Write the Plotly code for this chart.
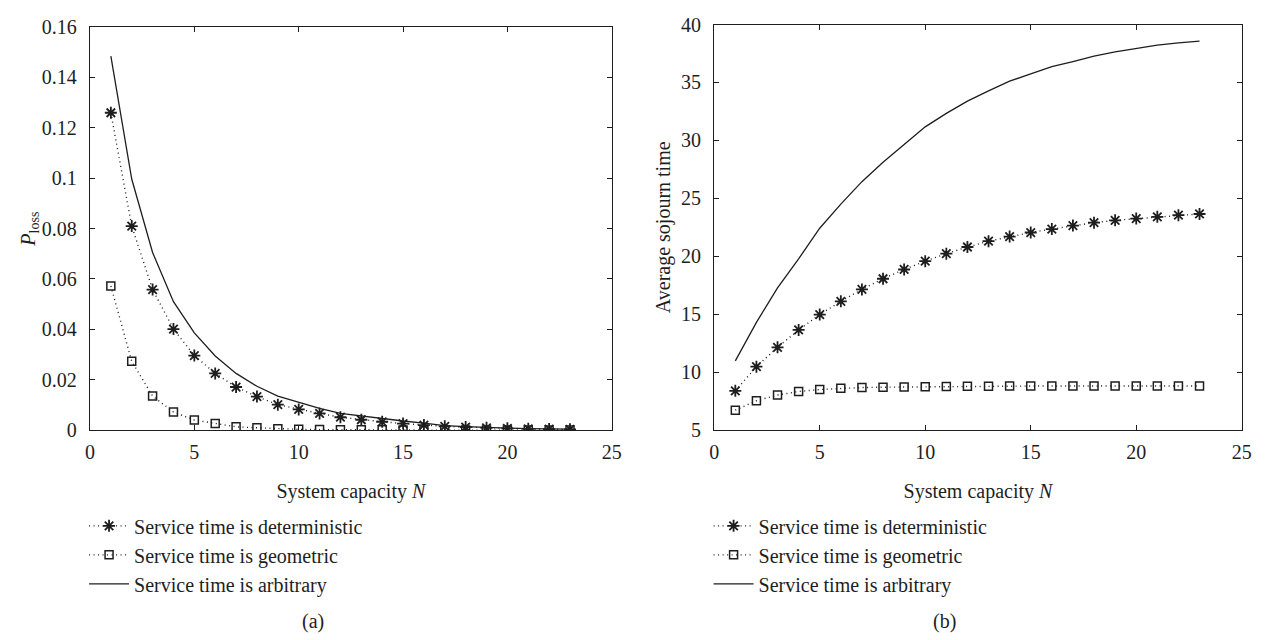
import plotly.graph_objects as go

# System capacity N
capacity = list(range(1, 24))

# (a) Loss probability
ploss_deterministic = [0.126, 0.081, 0.0558, 0.0401, 0.0296, 0.0225, 0.0171, 0.0133, 0.0101,
                       0.0082, 0.0066, 0.0051, 0.0041, 0.0033, 0.0026, 0.0020, 0.0015, 0.0012,
                       0.0009, 0.0007, 0.0005, 0.0004, 0.0003]
ploss_geometric = [0.0572, 0.0273, 0.0135, 0.0072, 0.0040, 0.0026, 0.0013, 0.0009, 0.0005,
                   0.0003, 0.0002, 0.0001, 0.0001, 0.0001, 0.0, 0.0, 0.0, 0.0,
                   0.0, 0.0, 0.0, 0.0, 0.0]
ploss_arbitrary = [0.1485, 0.0997, 0.0705, 0.0510, 0.0386, 0.0294, 0.0225, 0.0174, 0.0135,
                   0.0111, 0.0086, 0.0066, 0.0056, 0.0045, 0.0036, 0.0028, 0.0018, 0.0014,
                   0.0010, 0.0008, 0.0006, 0.0005, 0.0004]

# (b) Average sojourn time
sojourn_deterministic = [8.39, 10.47, 12.14, 13.64, 14.97, 16.11, 17.14, 18.06, 18.86,
                         19.58, 20.22, 20.8, 21.3, 21.7, 22.05, 22.35, 22.65, 22.9,
                         23.1, 23.25, 23.4, 23.55, 23.65]
sojourn_geometric = [6.72, 7.53, 8.03, 8.33, 8.5, 8.61, 8.67, 8.7, 8.72, 8.75, 8.77, 8.78,
                     8.79, 8.8, 8.8, 8.8, 8.8, 8.8, 8.8, 8.8, 8.8, 8.8, 8.8]
sojourn_arbitrary = [10.97, 14.3, 17.28, 19.78, 22.42, 24.5, 26.44, 28.11, 29.64, 31.17,
                     32.33, 33.39, 34.28, 35.11, 35.75, 36.36, 36.8, 37.28, 37.64, 37.94,
                     38.22, 38.42, 38.56]

series_names = ["Service time is deterministic", "Service time is geometric",
                "Service time is arbitrary"]
x_ticks = [0, 5, 10, 15, 20, 25]
ploss_ticks = [0, 0.02, 0.04, 0.06, 0.08, 0.1, 0.12, 0.14, 0.16]
sojourn_ticks = [5, 10, 15, 20, 25, 30, 35, 40]

W, H = 1270, 640
INK = "#1e1e1e"
FONT = "Liberation Serif"
DOT = "1px,3.5px"

fig = go.Figure()


def add_panel(ys, xa, ya, legend):
    det, geo, arb = ys
    fig.add_trace(go.Scatter(
        x=capacity, y=det, name=series_names[0], mode="lines+markers",
        line=dict(color=INK, width=1.4, dash=DOT),
        marker=dict(symbol="asterisk-open", size=10, line=dict(color=INK, width=1.8)),
        xaxis=xa, yaxis=ya, legend=legend))
    fig.add_trace(go.Scatter(
        x=capacity, y=geo, name=series_names[1], mode="lines+markers",
        line=dict(color=INK, width=1.4, dash=DOT),
        marker=dict(symbol="square-open", size=8, line=dict(color=INK, width=1.5)),
        xaxis=xa, yaxis=ya, legend=legend))
    fig.add_trace(go.Scatter(
        x=capacity, y=arb, name=series_names[2], mode="lines",
        line=dict(color=INK, width=1.3),
        xaxis=xa, yaxis=ya, legend=legend))


add_panel((ploss_deterministic, ploss_geometric, ploss_arbitrary), "x", "y", "legend")
add_panel((sojourn_deterministic, sojourn_geometric, sojourn_arbitrary), "x2", "y2", "legend2")

axis_common = dict(
    showgrid=False, zeroline=False, showline=True, linecolor=INK, linewidth=1.3,
    mirror="ticks", ticks="inside", ticklen=5, tickwidth=1.2, tickcolor=INK,
    tickfont=dict(family=FONT, size=20, color=INK),
    title_font=dict(family=FONT, size=20, color=INK),
)

legend_common = dict(
    y=1 - 513 / H, xanchor="left", yanchor="top",
    font=dict(family=FONT, size=20, color=INK), bgcolor="rgba(0,0,0,0)",
    itemwidth=40, tracegroupgap=0,
)

fig.update_layout(
    width=W, height=H,
    margin=dict(l=0, r=0, t=0, b=0),
    paper_bgcolor="white", plot_bgcolor="white",
    xaxis=dict(domain=[86 / W, 614 / W], range=[0, 25], tickvals=x_ticks,
               title=dict(text="System capacity <i>N</i>", standoff=21),
               anchor="y", ticklabelstandoff=4, **axis_common),
    yaxis=dict(domain=[1 - 434 / H, 1 - 16.7 / H], range=[0, 0.16], tickvals=ploss_ticks,
               title=dict(text="<i>P</i><sub>loss</sub>", standoff=0),
               anchor="x", ticklabelstandoff=8, **axis_common),
    xaxis2=dict(domain=[717.7 / W, 1251.5 / W], range=[0, 25], tickvals=x_ticks,
                title=dict(text="System capacity <i>N</i>", standoff=21),
                anchor="y2", ticklabelstandoff=4, **axis_common),
    yaxis2=dict(domain=[1 - 434 / H, 1 - 14 / H], range=[5, 40], tickvals=sojourn_ticks,
                title=dict(text="Average sojourn time", standoff=5),
                anchor="x2", ticklabelstandoff=8, **axis_common),
    legend=dict(x=80 / W, **legend_common),
    legend2=dict(x=712 / W, **legend_common),
    annotations=[
        dict(text="(a)", x=312 / W, y=1 - 632 / H, xref="paper", yref="paper",
             xanchor="center", yanchor="middle", showarrow=False,
             font=dict(family=FONT, size=20, color=INK)),
        dict(text="(b)", x=951 / W, y=1 - 632 / H, xref="paper", yref="paper",
             xanchor="center", yanchor="middle", showarrow=False,
             font=dict(family=FONT, size=20, color=INK)),
    ],
)

fig.write_html("out.html")
